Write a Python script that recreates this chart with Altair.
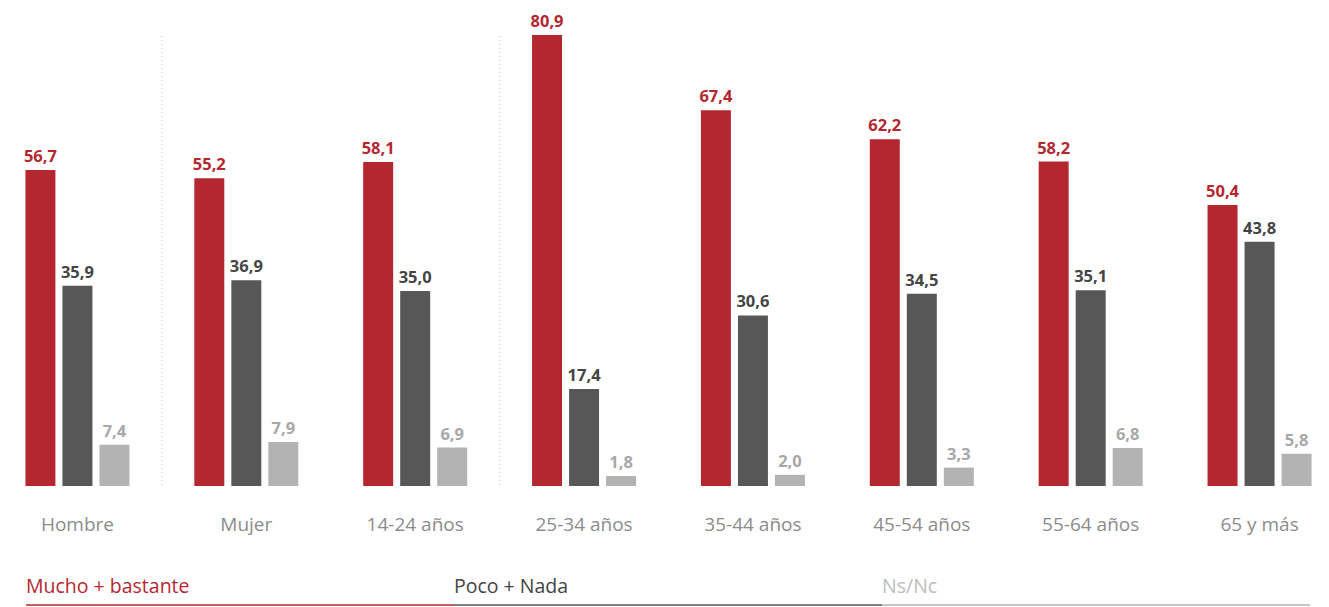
import altair as alt
import pandas as pd

categories = ["Hombre", "Mujer", "14-24 años", "25-34 años", "35-44 años",
              "45-54 años", "55-64 años", "65 y más"]
series = ["Mucho + bastante", "Poco + Nada", "Ns/Nc"]
mucho = [56.7, 55.2, 58.1, 80.9, 67.4, 62.2, 58.2, 50.4]
poco = [35.9, 36.9, 35.0, 17.4, 30.6, 34.5, 35.1, 43.8]
nsnc = [7.4, 7.9, 6.9, 1.8, 2.0, 3.3, 6.8, 5.8]
separators_after = ["Hombre", "14-24 años"]

bar_colors = ["#b5272f", "#575757", "#b3b3b3"]
label_colors = ["#b5272f", "#454545", "#a8a8a8"]
legend_text_colors = ["#b5272f", "#444444", "#bdbdbd"]
FONT = "Open Sans"

rows = []
for s, vals in zip(series, [mucho, poco, nsnc]):
    for c, v in zip(categories, vals):
        rows.append({"cat": c, "serie": s, "valor": v})
df = pd.DataFrame(rows)
sep_df = pd.DataFrame({"cat": separators_after})
leg_df = pd.DataFrame({"serie": series})

H = 468
x_scale = alt.Scale(domain=categories, range=[-15, 1336], paddingInner=0, paddingOuter=0)


def xenc(axis=None, band=None):
    kw = {}
    if band is not None:
        kw["bandPosition"] = band
    return alt.X("cat:N", sort=categories, scale=x_scale, axis=axis, title=None, **kw)


xoff = alt.XOffset("serie:N", sort=series,
                   scale=alt.Scale(domain=series, paddingInner=0.19, paddingOuter=0.876))
y = alt.Y("valor:Q", scale=alt.Scale(domain=[0, H / 5.575], nice=False, zero=True), axis=None)

bars = alt.Chart(df).mark_bar().encode(
    x=xenc(axis=alt.Axis(domain=False, ticks=False, labelAngle=0, labelFontSize=19,
                         labelColor="#8c8c8c", labelFont=FONT, labelPadding=29,
                         grid=False)),
    xOffset=xoff,
    y=y,
    color=alt.Color("serie:N", sort=series,
                    scale=alt.Scale(domain=series, range=bar_colors), legend=None),
)

texts = alt.Chart(df).transform_calculate(
    lbl="replace(format(datum.valor, '.1f'), '.', ',')"
).mark_text(dy=-8, baseline="alphabetic", fontWeight="bold", fontSize=16.5, font=FONT).encode(
    x=xenc(),
    xOffset=xoff,
    y=y,
    text="lbl:N",
    color=alt.Color("serie:N", sort=series,
                    scale=alt.Scale(domain=series, range=label_colors), legend=None),
)

seps = alt.Chart(sep_df).mark_rule(color="#bdbdbd", strokeDash=[1, 3], strokeWidth=1).encode(
    x=xenc(band=1),
    y=alt.value(18),
    y2=alt.value(H),
)

LEG_RANGE = [18, 1302]
leg_scale = alt.Scale(domain=series, range=LEG_RANGE, paddingInner=0, paddingOuter=0)
half_band = (LEG_RANGE[1] - LEG_RANGE[0]) / len(series) / 2

leg_line = alt.Chart(leg_df).mark_bar(opacity=0.75).encode(
    x=alt.X("serie:N", sort=series, axis=None, title=None, scale=leg_scale),
    y=alt.value(H + 118),
    y2=alt.value(H + 120),
    color=alt.Color("serie:N", sort=series,
                    scale=alt.Scale(domain=series, range=bar_colors), legend=None),
)

leg_text = alt.Chart(leg_df).mark_text(align="left", baseline="middle", fontSize=19.5,
                                       font=FONT, fontWeight=500, dx=-half_band).encode(
    x=alt.X("serie:N", sort=series, axis=None, title=None, scale=leg_scale),
    y=alt.value(H + 101),
    text="serie:N",
    color=alt.Color("serie:N", sort=series,
                    scale=alt.Scale(domain=series, range=legend_text_colors), legend=None),
)

chart = alt.layer(bars, texts, seps, leg_line, leg_text).resolve_scale(
    x="independent", color="independent"
).properties(
    width=1313, height=H,
    autosize=alt.AutoSizeParams(type="none"),
    padding={"left": 0, "top": 10, "right": 0, "bottom": 120},
).configure_view(stroke=None)

chart.save("out.html", embed_options={"renderer": "svg", "actions": False})
